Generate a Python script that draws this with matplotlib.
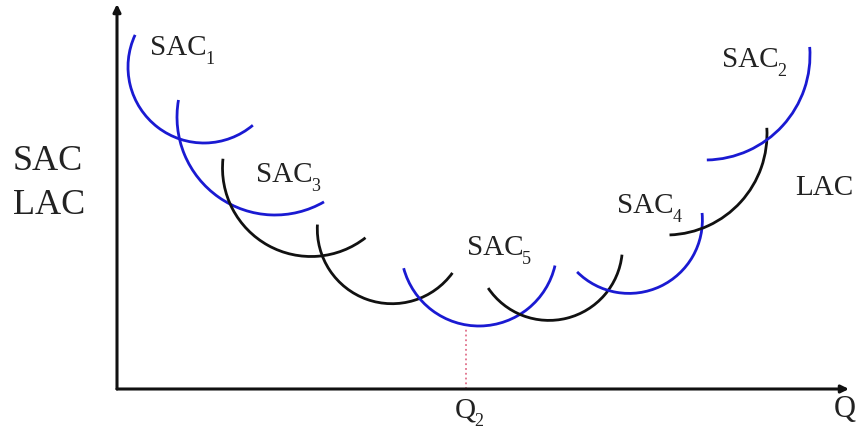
import matplotlib.pyplot as plt
from matplotlib.patches import Arc

plt.rcParams['font.family'] = ['Liberation Serif', 'DejaVu Serif']

# short-run average cost curves, each drawn as a circular arc
# (centre quantity, centre cost, radius, start angle, end angle)
sac_q = [204, 275, 311, 392, 479, 549, 629, 666, 705]
sac_cost = [367, 317, 266, 205, 186, 187, 214, 300, 379]
sac_radius = [76, 98, 88.5, 74.7, 78, 73.4, 73.4, 101, 105]
sac_start = [155, 170, 174, 176.6, 195, 214, 225, 272, 271]
sac_end = [310, 300, 308, 324, 347, 354, 365.5, 363.5, 364.4]
sac_color = ['blue', 'blue', 'black', 'black', 'blue', 'black', 'blue', 'black', 'blue']

# curve labels and their subscripts
label_sub = ['1', '3', '5', '4', '2']

q2 = 466
q2_cost = 107

BLUE = '#1a1ad2'
BLACK = '#111111'
TEXT = '#222222'

fig = plt.figure(figsize=(8.59, 4.34), dpi=100)
ax = fig.add_axes([0, 0, 1, 1])
ax.set_xlim(0, 859)
ax.set_ylim(0, 434)
ax.axis('off')

# ==========================================
# Axes with arrows
# ==========================================
origin = (117, 45)
arrow = dict(arrowstyle='-|>,head_length=0.45,head_width=0.22',
             color=BLACK, lw=2.2, shrinkA=0, shrinkB=0)
ax.annotate('', xy=(117, 430), xytext=origin, arrowprops=arrow)
ax.annotate('', xy=(849, 45), xytext=origin, arrowprops=arrow)

# ==========================================
# SAC curves
# ==========================================
for q, c, r, t1, t2, col in zip(sac_q, sac_cost, sac_radius, sac_start, sac_end, sac_color):
    ax.add_patch(Arc((q, c), 2 * r, 2 * r, theta1=t1, theta2=t2,
                     color=BLUE if col == 'blue' else BLACK, lw=2.0))

# dotted line down to Q2
ax.plot([q2, q2], [45, q2_cost], color='#e0708a', lw=1.3, ls=':')

# ==========================================
# Labels
# ==========================================
def sub_label(x, y, main, sub, size=21):
    t = ax.text(x, y, main, fontsize=size, color=TEXT, va='center', ha='left')
    ax.annotate(sub, xy=(1.0, 0.0), xycoords=t, xytext=(-1, 1),
                textcoords='offset points', fontsize=size * 0.62,
                color=TEXT, va='center', ha='left')
    return t

ax.text(13, 272, 'SAC', fontsize=26, color=TEXT, va='center', ha='left')
ax.text(13, 228, 'LAC', fontsize=26, color=TEXT, va='center', ha='left')

label_x = [150, 256, 467, 617, 722]
label_y = [386, 259, 186, 228, 374]
for s, x, y in zip(label_sub, label_x, label_y):
    sub_label(x, y, 'SAC', s)

ax.text(795, 246, 'LAC', fontsize=21, color=TEXT, va='center', ha='left')
sub_label(455, 24, 'Q', '2')
ax.text(845, 24, 'Q', fontsize=22, color=TEXT, va='center', ha='center')

fig.savefig('out.png', dpi=100)
